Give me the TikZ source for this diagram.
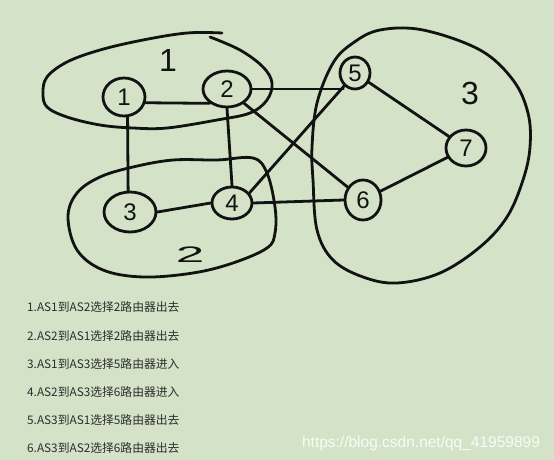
\documentclass[tikz,border=0pt]{standalone}
\usepackage{fontspec}
\setmainfont{Liberation Sans}
\newfontfamily\cjkfont{Noto Sans CJK SC}
\usepackage{tikz}
\usetikzlibrary{shapes.geometric}
\definecolor{paper}{RGB}{212,227,200}
\definecolor{ink}{RGB}{18,18,18}
\definecolor{note}{RGB}{45,45,45}

\begin{document}
\begin{tikzpicture}[x=1pt,y=-1pt,
    router/.style={draw=ink,line width=2.8pt,ellipse,inner sep=0pt,text=ink,font=\fontsize{24}{24}\selectfont},
    link/.style={draw=ink,line width=2.8pt,line cap=round},
    asline/.style={draw=ink,line width=2.8pt,line cap=round,line join=round},
    aslabel/.style={text=ink,font=\fontsize{32}{32}\selectfont},
    noteline/.style={anchor=west,text=note,inner sep=0pt,font=\cjkfont\fontsize{11.8}{12}\selectfont}]
  \fill[paper] (0,0) rectangle (554,460);
  \useasboundingbox (0,0) rectangle (554,460);

  % the three ASes
  \draw[asline] plot[smooth,tension=0.6] coordinates {(210,37) (240,50) (263,67) (272,83) (267,100) (250,113) (217,120) (167,128) (133,128) (100,125) (67,117) (47,107) (43,93) (47,77) (67,62) (100,50) (143,40) (187,33) (222,33)};
  \draw[asline] plot[smooth cycle,tension=0.6] coordinates {(217,160) (253,158) (267,173) (275,207) (275,233) (267,248) (233,263) (193,273) (143,277) (103,270) (77,250) (68,217) (77,193) (100,177) (133,167) (173,160)};
  \draw[asline] plot[smooth cycle,tension=0.6] coordinates {(380,30) (423,30) (480,50) (513,80) (528,113) (530,147) (523,180) (507,217) (480,247) (440,273) (397,283) (363,277) (333,260) (317,230) (313,180) (312,147) (317,103) (333,63) (353,43)};
  \draw (168,60) node[aslabel] (as1) {1};
  \draw (190,255) node[aslabel,xscale=1.6,yscale=0.7] (as2) {2};
  \draw (470,93) node[aslabel] (as3) {3};

  % routers
  \draw (124,97) node[router,minimum width=42pt,minimum height=38pt] (r1) {1};
  \draw (227,89) node[router,minimum width=48pt,minimum height=36pt] (r2) {2};
  \draw (130,212) node[router,minimum width=52pt,minimum height=40pt] (r3) {3};
  \draw (232,203) node[router,minimum width=40pt,minimum height=32pt] (r4) {4};
  \draw (355,73) node[router,minimum width=30pt,minimum height=32pt] (r5) {5};
  \draw (363,200) node[router,minimum width=36pt,minimum height=40pt] (r6) {6};
  \draw (466,148) node[router,minimum width=40pt,minimum height=36pt] (r7) {7};

  % links
  \draw[link] (r1.-15) -- (r2.-140);
  \draw[link] (r1.-80) -- (r3.95);
  \draw[link] (r2.south) -- (r4.north);
  \draw[link] (r3.east) -- (r4.west);
  \draw[link] (r2.east) -- (r2.east -| r5.south west);
  \draw[link] (r2.-40) -- (r6.140);
  \draw[link] (r4.30) -- (r5.-130);
  \draw[link] (r4.east) -- (r6.west);
  \draw[link] (r5) -- (r7);
  \draw[link] (r6) -- (r7);

  % notes
  \draw (27,307) node[noteline] (note1) {1.AS1到AS2选择2路由器出去};
  \draw (27,336) node[noteline] (note2) {2.AS2到AS1选择2路由器出去};
  \draw (27,364) node[noteline] (note3) {3.AS1到AS3选择5路由器进入};
  \draw (27,392) node[noteline] (note4) {4.AS2到AS3选择6路由器进入};
  \draw (27,420) node[noteline] (note5) {5.AS3到AS1选择5路由器出去};
  \draw (27,448) node[noteline] (note6) {6.AS3到AS2选择6路由器出去};

  \draw (421,443) node[text=white!85!paper,font=\fontsize{15.5}{16}\selectfont] (mark) {https://blog.csdn.net/qq\_41959899};
\end{tikzpicture}
\end{document}
